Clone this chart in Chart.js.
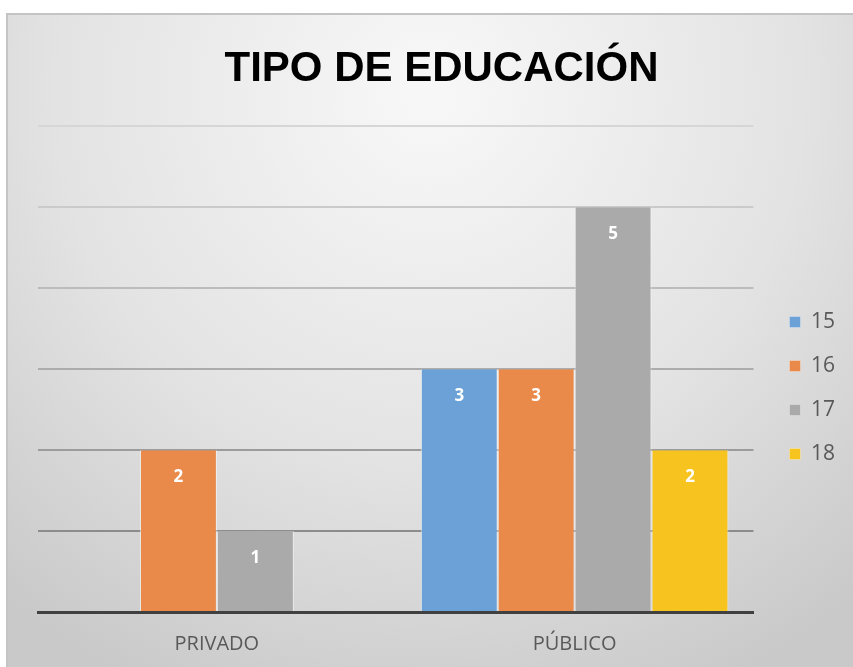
<!DOCTYPE html>
<html>
<head>
<meta charset="utf-8">
<script src="https://cdn.jsdelivr.net/npm/chart.js@4/dist/chart.umd.min.js"></script>
<style>
  body { margin: 0; background: #fff; }
  #wrap { position: absolute; left: 6px; top: 13px; width: 847px; height: 654px; }
</style>
</head>
<body>
<div id="wrap"><canvas id="myChart"></canvas></div>
<script>
const categories = ['PRIVADO', 'PÚBLICO'];
const seriesNames = ['15', '16', '17', '18'];
const age15 = [0, 3];
const age16 = [2, 3];
const age17 = [1, 5];
const age18 = [0, 2];
const colors = ['#6ba1d7', '#e98a4a', '#aaaaaa', '#f7c31f'];
const gridColors = ['#404040', '#8c8c8c', '#9c9c9c', '#acacac', '#bcbcbc', '#cacaca', '#d6d6d6'];

// excel-ish gradient background
const bgPlugin = {
  id: 'bg',
  beforeDraw(chart) {
    const { ctx, width, height } = chart;
    const g = ctx.createRadialGradient(width * 0.5, height * 0.12, 20, width * 0.5, height * 0.12, width * 0.78);
    g.addColorStop(0, '#f7f7f7');
    g.addColorStop(0.55, '#e3e3e3');
    g.addColorStop(1, '#c9c9c9');
    ctx.save();
    ctx.fillStyle = g;
    ctx.fillRect(0, 0, width, height);
    ctx.strokeStyle = '#c4c4c4';
    ctx.lineWidth = 2;
    ctx.beginPath();
    ctx.moveTo(1, height);
    ctx.lineTo(1, 1);
    ctx.lineTo(width, 1);
    ctx.stroke();
    ctx.restore();
  },
  // push the legend down a bit, like the original
  afterLayout(chart) {
    const lg = chart.legend;
    if (lg) { lg.top += 48; lg.bottom += 48; }
  }
};

const labelPlugin = {
  id: 'vals',
  afterDatasetsDraw(chart) {
    const ctx = chart.ctx;
    ctx.save();
    ctx.fillStyle = '#ffffff';
    ctx.font = 'bold 17px "Open Sans", sans-serif';
    ctx.textAlign = 'center';
    ctx.textBaseline = 'middle';
    chart.data.datasets.forEach((ds, i) => {
      chart.getDatasetMeta(i).data.forEach((bar, j) => {
        if (ds.data[j] > 0) ctx.fillText(ds.data[j], bar.x, bar.y + 27);
      });
    });
    ctx.restore();
  }
};

const data = {
  labels: categories,
  datasets: [age15, age16, age17, age18].map((d, i) => ({
    label: seriesNames[i],
    data: d,
    backgroundColor: colors[i],
    borderColor: 'rgba(255,255,255,0.6)',
    borderWidth: { left: 1, right: 1, top: 0, bottom: 0 },
    borderSkipped: false,
    categoryPercentage: 0.86,
    barPercentage: 1
  }))
};

new Chart(document.getElementById('myChart'), {
  type: 'bar',
  data,
  plugins: [bgPlugin, labelPlugin],
  options: {
    responsive: true,
    maintainAspectRatio: false,
    animation: false,
    layout: { padding: { left: 32, right: 8, top: 0, bottom: 0 } },
    plugins: {
      title: {
        display: true,
        text: 'TIPO DE EDUCACIÓN',
        color: '#000',
        font: { family: '"Liberation Sans", sans-serif', size: 42, weight: 'bold' },
        padding: { top: 31, bottom: 32 }
      },
      legend: {
        position: 'right',
        labels: {
          boxWidth: 11, boxHeight: 11, padding: 23,
          color: '#595959',
          font: { family: '"Open Sans", sans-serif', size: 21 }
        }
      },
      tooltip: { enabled: false }
    },
    scales: {
      x: {
        grid: { display: false, drawTicks: false },
        border: { color: '#404040', width: 3 },
        ticks: { color: '#595959', padding: 20, font: { family: '"Open Sans", sans-serif', size: 20 } },
        afterFit(s) { s.height = 55; }
      },
      y: {
        min: 0, max: 6,
        ticks: { display: false, stepSize: 1 },
        border: { display: false },
        grid: { drawTicks: false, lineWidth: 2, color: c => gridColors[c.tick.value] }
      },
      // empty axis on the right, only keeps a gap before the legend
      yGap: {
        position: 'right',
        ticks: { display: false },
        border: { display: false },
        grid: { display: false, drawTicks: false },
        afterFit(s) { s.width = 13; }
      }
    }
  }
});
</script>
</body>
</html>
